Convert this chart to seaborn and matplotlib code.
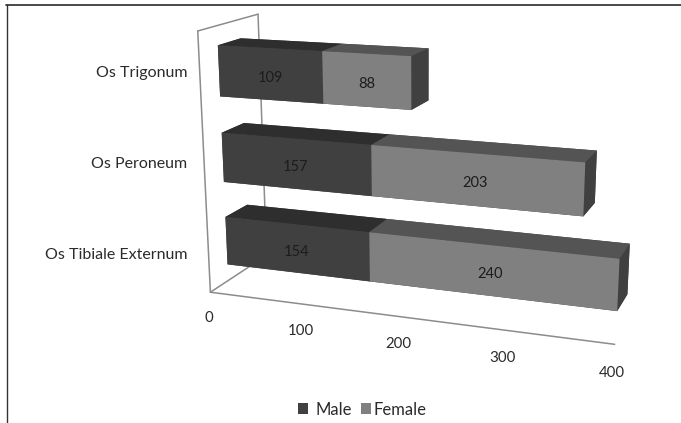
import numpy as np
import matplotlib
matplotlib.use('Agg')
import matplotlib.pyplot as plt
from matplotlib.lines import Line2D
from matplotlib.patches import Patch
from mpl_toolkits.mplot3d import proj3d
import seaborn as sns

# values, bottom row first
categories = ['Os Tibiale Externum', 'Os Peroneum', 'Os Trigonum']
male = [154, 157, 109]
female = [240, 203, 88]
value_ticks = [0, 100, 200, 300, 400]
series_names = ['Male', 'Female']

W, H = 681, 423
Y0, Y1 = 0.3, 0.68      # bar depth
Z0, Z1 = 0.2, 0.78      # bar height inside a row


def fit_camera():
    # camera fitted from where the box and bar corners sit in the picture
    pts = [
        (0, 0, 0, 210, 292), (400, 0, 0, 614, 347), (0, 0, 3, 197, 31),
        (0, 1, 3, 258, 15), (0, 1, 0, 266, 257),
        (0, Y0, 2 + Z1, 218, 45), (0, Y1, 2 + Z1, 240, 38), (0, Y0, 2 + Z0, 220, 96),
        (109, Y0, 2 + Z1, 323, 52), (109, Y0, 2 + Z0, 323, 102), (109, Y1, 2 + Z1, 340, 44),
        (197, Y0, 2 + Z1, 412, 57), (197, Y1, 2 + Z1, 429, 49),
        (197, Y0, 2 + Z0, 412, 109), (197, Y1, 2 + Z0, 429, 98),
        (0, Y0, 1 + Z1, 222, 132), (0, Y1, 1 + Z1, 245, 122), (0, Y0, 1 + Z0, 224, 186),
        (157, Y0, 1 + Z1, 372, 145), (157, Y1, 1 + Z1, 388, 135),
        (360, Y0, 1 + Z1, 585, 163), (360, Y0, 1 + Z0, 583, 216),
        (360, Y1, 1 + Z1, 597, 152), (360, Y1, 1 + Z0, 595, 202),
        (0, Y0, Z1, 226, 217), (0, Y1, Z1, 248, 204), (0, Y0, Z0, 227, 263),
        (154, Y0, Z1, 370, 232), (154, Y0, Z0, 370, 280), (154, Y1, Z1, 387, 219),
        (394, Y0, Z1, 619, 258), (394, Y0, Z0, 617, 311),
        (394, Y1, Z1, 630, 244), (394, Y1, Z0, 628, 293),
    ]
    rows, rhs = [], []
    for x, y, z, u, v in pts:
        x = x / 400
        u = u / 600
        v = v / 600
        rows.append([x, y, z, 1, 0, 0, 0, 0, -u * x, -u * y, -u * z])
        rhs.append(u)
        rows.append([0, 0, 0, 0, x, y, z, 1, -v * x, -v * y, -v * z])
        rhs.append(v)
    p = np.linalg.lstsq(np.array(rows), np.array(rhs), rcond=None)[0]
    scale = np.diag([1 / 400, 1, 1, 1])
    cam = np.array([
        [p[0] * 600, p[1] * 600, p[2] * 600, p[3] * 600],
        [p[4] * 600, p[5] * 600, p[6] * 600, p[7] * 600],
        [-0.0002 * 400, 1, -0.1, 0],   # only used to sort the faces
        [p[8], p[9], p[10], 1],
    ])
    return cam @ scale


sns.set_theme(style='white')
plt.rcParams['font.family'] = ['Lato', 'DejaVu Sans']
colors = sns.color_palette(['#404040', '#808080'])
grey_axis = '#8c8c8c'
text_color = '#2b2b2b'

fig = plt.figure(figsize=(W / 100, H / 100), dpi=100, facecolor='white')
ax = fig.add_axes([0, 0, 1, 1], projection='3d', computed_zorder=False)
ax.set_proj_type('ortho')   # keeps lines from being clipped, the camera below does the perspective
M = fit_camera()
ax.get_proj = lambda: M
ax.apply_aspect = lambda position=None: None
ax.set_axis_off()
ax.patch.set_visible(False)


def label(x, y, z, s, size, color):
    # real 2D text at the projected point
    px, py, _ = proj3d.proj_transform(x, y, z, M)
    ax.text2D(px, py, s, transform=ax.transData, ha='center', va='center',
              fontsize=size, color=color, zorder=5)


# box lines behind the bars
box = [((0, 0, 0), (400, 0, 0)), ((0, 0, 0), (0, 0, 3)), ((0, 0, 3), (0, 1, 3)),
       ((0, 1, 3), (0, 1, 0)), ((0, 0, 0), (0, 1, 0))]
for a, b in box:
    ax.plot([a[0], b[0]], [a[1], b[1]], [a[2], b[2]], color=grey_axis, lw=1.1, zorder=1)

rows = np.arange(len(categories))
male = np.array(male)
female = np.array(female)
# face order in bar3d: bottom, top, front, back, left, right
male_faces = ['#404040', '#2e2e2e', colors[0], '#404040', '#404040', '#404040']
female_faces = ['#404040', '#545454', colors[1], '#404040', '#404040', '#404040']
bars = ax.bar3d(np.zeros(3), np.full(3, Y0), rows + Z0, male, Y1 - Y0, Z1 - Z0,
                color=male_faces * 3, shade=False, edgecolor='none')
bars.set_zorder(2)
bars = ax.bar3d(male, np.full(3, Y0), rows + Z0, female, Y1 - Y0, Z1 - Z0,
                color=female_faces * 3, shade=False, edgecolor='none')
bars.set_zorder(3)

ax.viewLim.intervalx = (0, W)
ax.viewLim.intervaly = (H, 0)

# value labels on the front faces
for i in rows:
    label(male[i] / 2, Y0, i + 0.45, str(male[i]), 10.5, '#1c1c1c')
    label(male[i] + female[i] / 2, Y0, i + 0.45, str(female[i]), 10.5, '#1c1c1c')

# value axis labels
for v in value_ticks:
    label(v, -0.05, -0.29, str(v), 10.8, text_color)

# category labels
for name, py in zip(categories, [255, 164, 73]):
    fig.text(187.5 / W, 1 - py / H, name, ha='right', va='center', fontsize=11.5, color=text_color)

# legend, the two entries sit unevenly in the reference
handles = [Patch(facecolor=c, edgecolor='none') for c in colors]
fig.legend(handles[:1], series_names[:1], loc='center left', bbox_to_anchor=(298 / W, 1 - 409.5 / H),
           frameon=False, fontsize=12, handlelength=0.62, handleheight=0.62,
           handletextpad=0.42, borderpad=0, borderaxespad=0, labelcolor=text_color)
fig.legend(handles[1:], series_names[1:], loc='center left', bbox_to_anchor=(361 / W, 1 - 409.5 / H),
           frameon=False, fontsize=12, handlelength=0.62, handleheight=0.62,
           handletextpad=0.12, borderpad=0, borderaxespad=0, labelcolor=text_color)

# picture frame
fig.add_artist(Line2D([6.5 / W, 6.5 / W], [0, 1 - 5 / H], color='#333333', lw=1.0))
fig.add_artist(Line2D([6 / W, 1], [1 - 5 / H, 1 - 5 / H], color='#2a2a2a', lw=1.2))

fig.savefig('out.png', dpi=100)
plt.close(fig)
